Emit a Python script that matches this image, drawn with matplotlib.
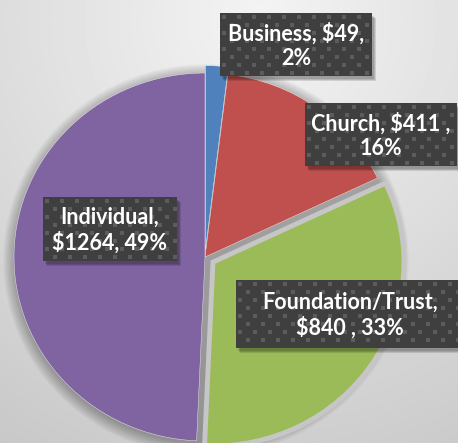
import numpy as np
import matplotlib.pyplot as plt
from matplotlib.patches import Rectangle, Ellipse

# data
categories = ["Business", "Church", "Foundation/Trust", "Individual"]
amounts = [49, 411, 840, 1264]
percents = [2, 16, 33, 49]
label_text = ["Business, $49,\n2%",
              "Church, $411 ,\n16%",
              "Foundation/Trust,\n$840 , 33%",
              "Individual,\n$1264, 49%"]
colors = ["#4f81bd", "#c0504d", "#9bbb59", "#8064a2"]
explode = [0.04, 0, 0.05, 0]

W, H = 458, 443
fig = plt.figure(figsize=(W / 100, H / 100), dpi=100)

# background gradient + pie shadow (pixel coords)
bg = fig.add_axes([0, 0, 1, 1], zorder=0)
yy, xx = np.mgrid[0:H, 0:W]
d = np.hypot(xx - 260, yy - 20) / np.hypot(W, H)
shade = 0.955 - 0.22 * d
bg.imshow(shade, cmap="gray", vmin=0, vmax=1, extent=(0, W, H, 0), aspect="auto")
bg.set_xlim(0, W)
bg.set_ylim(H, 0)
bg.axis("off")

cx, cy, rx, ry = 205, 257, 191, 184
for k in range(10):
    bg.add_patch(Ellipse((cx + 1, cy + 3), 2 * (rx + k * 1.3), 2 * (ry + k * 1.3),
                         color="black", alpha=0.03, lw=0))

# pie
pax = fig.add_axes([(cx - rx) / W, (H - cy - ry) / H, 2 * rx / W, 2 * ry / H], zorder=1)
wedges, _ = pax.pie(amounts, colors=colors, startangle=90, counterclock=False,
                    explode=explode, wedgeprops=dict(edgecolor="#f0f0f0", linewidth=0.3))
wedges[2].set_edgecolor("#c6c6c6")
wedges[2].set_linewidth(3.5)
for w in wedges:
    w.set_clip_on(False)
pax.set_aspect("auto")
pax.set_xlim(-1, 1)
pax.set_ylim(-1, 1)
pax.patch.set_alpha(0)

# data labels
ov = fig.add_axes([0, 0, 1, 1], zorder=2)
ov.set_xlim(0, W)
ov.set_ylim(H, 0)
ov.axis("off")

boxes = [(220, 13, 152, 63), (305, 103, 152, 63), (236, 280, 228, 68), (43, 197, 134, 64)]
for txt, (x0, y0, bw, bh) in zip(label_text, boxes):
    for s in range(3):
        ov.add_patch(Rectangle((x0 + 2 + s, y0 + 3 + s), bw, bh, color="black",
                               alpha=0.12, lw=0))
    box = Rectangle((x0, y0), bw, bh, facecolor="#3f3f3f", edgecolor="none")
    ov.add_patch(box)
    px, py = [], []
    for j, yv in enumerate(np.arange(y0 + 4, y0 + bh, 8)):
        off = 0 if j % 2 == 0 else 7.5
        for xv in np.arange(x0 + 4 + off, x0 + bw, 15):
            px.append(xv)
            py.append(yv)
    sc = ov.scatter(px, py, marker="s", s=7, color="#5c5c5c", lw=0)
    sc.set_clip_path(box)
    ov.text(x0 + bw / 2, y0 + bh / 2 + 1, txt, ha="center", va="center",
            color="white", fontsize=15.5, fontweight="bold", family="Lato",
            linespacing=1.22)

fig.savefig("out.png", dpi=100)
